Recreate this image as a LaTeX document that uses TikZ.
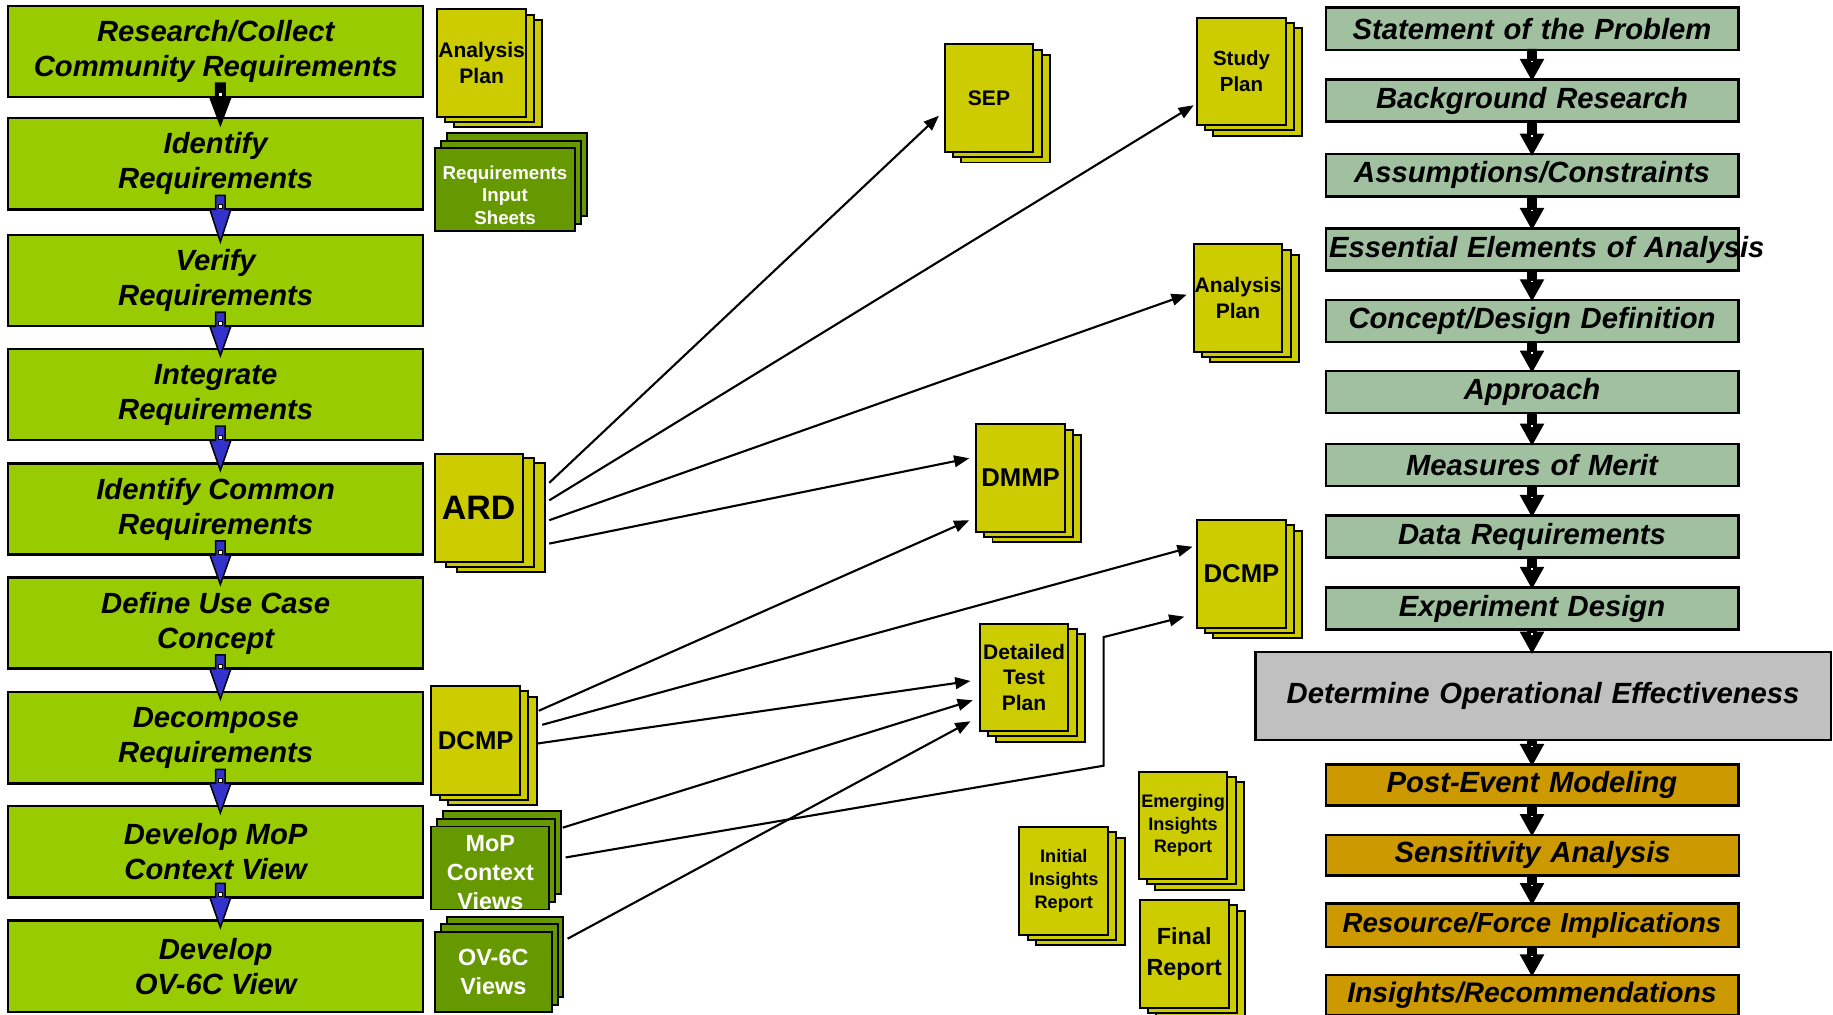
\documentclass[tikz,border=0pt]{standalone}
\usepackage{fontspec}
\setmainfont{Liberation Sans}
\usetikzlibrary{arrows.meta,shadows,calc}

\definecolor{procgreen}{HTML}{99CC00}
\definecolor{docyellow}{HTML}{CCCC00}
\definecolor{docgreen}{HTML}{669900}
\definecolor{sage}{HTML}{A0C0A0}
\definecolor{effgray}{HTML}{C0C0C0}
\definecolor{amber}{HTML}{CC9900}
\definecolor{flowblue}{HTML}{3333CC}

\tikzset{
  proc/.style={draw=black, line width=2.2pt, fill=procgreen, minimum width=355pt,
    minimum height=78pt, inner sep=0pt, align=center,
    font=\fontsize{25}{30}\selectfont\bfseries\itshape},
  stage/.style={draw=black, line width=2pt, text width=347pt, inner xsep=3pt,
    inner ysep=0pt, minimum height=36pt, align=center,
    font=\fontsize{25}{30}\selectfont\bfseries\itshape},
  doc/.style={draw=black, line width=1.7pt, fill=docyellow, minimum width=76pt,
    minimum height=92pt, inner sep=0pt, align=center,
    font=\fontsize{18}{22}\selectfont\bfseries},
  greendoc/.style={fill=docgreen, text=white},
  sheettext/.style={text=white, align=center, inner sep=0pt},
  docstack/.style={
    general shadow={shadow xshift=14pt, shadow yshift=-9pt, fill=docyellow, draw=black, line width=1.7pt},
    general shadow={shadow xshift=7pt, shadow yshift=-4.5pt, fill=docyellow, draw=black, line width=1.7pt}},
  ardstack/.style={
    general shadow={shadow xshift=19pt, shadow yshift=-8pt, fill=docyellow, draw=black, line width=1.7pt},
    general shadow={shadow xshift=9.5pt, shadow yshift=-4pt, fill=docyellow, draw=black, line width=1.7pt}},
  greenstack/.style={
    general shadow={shadow xshift=10pt, shadow yshift=13pt, fill=docgreen, draw=black, line width=1.7pt},
    general shadow={shadow xshift=5pt, shadow yshift=6.5pt, fill=docgreen, draw=black, line width=1.7pt}},
  link/.style={draw=black, line width=1.8pt, -{Triangle[length=13pt,width=10pt]}},
}

% block arrow between two boxes of the requirements column
\newcommand\procstep[3]{%
  \path[draw=black, line width=1.3pt, fill=#1, line join=miter]
    let \p1=($(#2.south)+(4,0)$), \p2=(#3.north) in
    (\x1-4pt,\y1+13pt) -- (\x1-4pt,\y1+1pt) -- (\x1-9pt,\y1+1pt) -- (\x1,\y2-7pt)
    -- (\x1+9pt,\y1+1pt) -- (\x1+4pt,\y1+1pt) -- (\x1+4pt,\y1+13pt) -- cycle;
  \path[draw=black, line width=0.7pt, fill=white]
    let \p1=($(#2.south)+(4,0)$) in
    (\x1-2pt,\y1+1.5pt) rectangle (\x1+2pt,\y1+5pt);
}

% block arrow between two stages of the study column
\newcommand\stagestep[2]{%
  \path[draw=black, line width=1.2pt, fill=black, line join=miter]
    let \p1=(stmt.south |- #1.south), \p2=(stmt.south |- #2.north) in
    (\x1-3.5pt,\y1+1pt) -- (\x1-3.5pt,\y2+16pt) -- (\x1-9.5pt,\y2+16pt) -- (\x1,\y2-1pt)
    -- (\x1+9.5pt,\y2+16pt) -- (\x1+3.5pt,\y2+16pt) -- (\x1+3.5pt,\y1+1pt) -- cycle;
  \fill[white] let \p2=(stmt.south |- #2.north) in
    (\x2-1.2pt,\y2+14pt) rectangle (\x2+1.2pt,\y2+15.2pt);
}

\begin{document}
\begin{tikzpicture}[x=1pt,y=-1pt]
\fill[white] (0,0) rectangle (1568,868);
\useasboundingbox (0,0) rectangle (1568,868);

% ---------------- requirements column ----------------
\node[proc] (research)  at (184.5,44)    {Research/Collect\\Community Requirements};
\node[proc] (identify)  at (184.5,140)   {Identify\\Requirements};
\node[proc] (verify)    at (184.5,240)   {Verify\\Requirements};
\node[proc] (integrate) at (184.5,337.5) {Integrate\\Requirements};
\node[proc] (common)    at (184.5,435.5) {Identify Common\\Requirements};
\node[proc] (usecase)   at (184.5,533)   {Define Use Case\\Concept};
\node[proc] (decompose) at (184.5,631)   {Decompose\\Requirements};
\node[proc] (mopview)   at (184.5,728.5) {Develop MoP\\Context View};
\node[proc] (ovview)    at (184.5,826.5) {Develop\\OV-6C View};

\procstep{black}{research}{identify}
\procstep{flowblue}{identify}{verify}
\procstep{flowblue}{verify}{integrate}
\procstep{flowblue}{integrate}{common}
\procstep{flowblue}{common}{usecase}
\procstep{flowblue}{usecase}{decompose}
\procstep{flowblue}{decompose}{mopview}
\procstep{flowblue}{mopview}{ovview}

% ---------------- products ----------------
\node[doc, docstack] (anaplanA) at (412,54) {Analysis\\Plan};
\node[doc, greendoc, greenstack, minimum width=120pt, minimum height=71pt,
      label={[name=ristext, sheettext, yshift=-4.5pt,
              font=\fontsize{16}{19.5}\selectfont\bfseries]center:{Requirements\\Input\\Sheets}}]
      (ris) at (432,162.5) {};
\node[doc, ardstack, minimum width=75pt, minimum height=93pt,
      font=\fontsize{29}{34}\selectfont\bfseries] (ard) at (409.5,434.5) {ARD};
\node[doc, docstack, minimum height=93pt,
      font=\fontsize{22}{26}\selectfont\bfseries] (dcmpA) at (407,633.5) {DCMP};
\node[doc, greendoc, greenstack, minimum width=101pt, minimum height=71pt,
      label={[name=moptext, sheettext, yshift=-4pt,
              font=\fontsize{20}{25}\selectfont\bfseries]center:{MoP\\Context\\Views}}]
      (mopv) at (419.5,742.5) {};
\node[doc, greendoc, greenstack, minimum width=100pt, minimum height=69pt,
      font=\fontsize{20}{25}\selectfont\bfseries] (ovv) at (422,831.5) {OV-6C\\Views};

\node[doc, docstack] (sep) at (846,84) {SEP};
\node[doc, docstack, font=\fontsize{17.5}{22}\selectfont\bfseries] (study) at (1062,61) {Study\\Plan};
\node[doc, docstack] (anaplanB) at (1059,255) {Analysis\\Plan};
\node[doc, docstack, font=\fontsize{22}{26}\selectfont\bfseries] (dmmp) at (873,409) {DMMP};
\node[doc, docstack, font=\fontsize{22}{26}\selectfont\bfseries] (dcmpB) at (1062,491) {DCMP};
\node[doc, docstack, font=\fontsize{18}{21.5}\selectfont\bfseries] (dtp) at (876,579.5) {Detailed\\Test\\Plan};
\node[doc, docstack, font=\fontsize{15.5}{19.5}\selectfont\bfseries] (eir) at (1012,706) {Emerging\\Insights\\Report};
\node[doc, docstack, font=\fontsize{15.5}{19.5}\selectfont\bfseries] (iir) at (910,753.5) {Initial\\Insights\\Report};
\node[doc, docstack, font=\fontsize{20}{26}\selectfont\bfseries] (final) at (1013,816) {Final\\Report};

% ---------------- product flows ----------------
\draw[link] ([shift={(22pt,21.5pt)}]ard.east)  -- ([shift={(-4pt,-15pt)}]sep.west);
\draw[link] ([shift={(22pt,6.5pt)}]ard.east)   -- ([shift={(-2pt,-29pt)}]study.west);
\draw[link] ([shift={(22pt,-10.5pt)}]ard.east) -- ([shift={(-5pt,3pt)}]anaplanB.west);
\draw[link] ([shift={(22pt,-30.5pt)}]ard.east) -- ([shift={(-5pt,17pt)}]dmmp.west);

\draw[link] ([shift={(15pt,25.5pt)}]dcmpA.east) -- ([shift={(-5pt,-36pt)}]dmmp.west);
\draw[link] ([shift={(18pt,13.5pt)}]dcmpA.east) -- ([shift={(-3pt,23.3pt)}]dcmpB.west);
\draw[link] ([shift={(14pt,-2.5pt)}]dcmpA.east) -- ([shift={(-7pt,-3pt)}]dtp.west);

\coordinate (bendlow) at (944,655);
\coordinate (bendhigh) at (944,545);
\draw[link] ([shift={(10.5pt,34.5pt)}]mopv.east) -- ([shift={(-5pt,-19.5pt)}]dtp.west);
\draw[link] ([shift={(13pt,9pt)}]mopv.east) -- (bendlow) -- (bendhigh)
            -- ([shift={(-10pt,-36.5pt)}]dcmpB.west);
\draw[link] ([shift={(12.7pt,28.5pt)}]ovv.east) -- ([shift={(-7pt,-37.5pt)}]dtp.west);

% ---------------- study column ----------------
\node[stage, fill=sage] (stmt)      at (1310.5,24.5)  {Statement of the Problem};
\node[stage, fill=sage] (bg)        at (1310.5,86)    {Background Research};
\node[stage, fill=sage] (assume)    at (1310.5,150)   {Assumptions/Constraints};
\node[stage, fill=sage] (eea)       at (1310.5,213.5) {\mbox{Essential Elements of Analysis}};
\node[stage, fill=sage] (concept)   at (1310.5,274.5) {Concept/Design Definition};
\node[stage, fill=sage] (approach)  at (1310.5,335.5) {Approach};
\node[stage, fill=sage] (mom)       at (1310.5,398)   {Measures of Merit};
\node[stage, fill=sage] (datareq)   at (1310.5,459)   {Data Requirements};
\node[stage, fill=sage] (expdesign) at (1310.5,520.5) {Experiment Design};
\node[stage, fill=effgray, text width=486pt, minimum height=75pt] (doe) at (1320,595.5)
      {Determine Operational Effectiveness};
\node[stage, fill=amber, minimum height=35pt] (post)     at (1310.5,671.5) {Post-Event Modeling};
\node[stage, fill=amber, minimum height=35pt] (sens)     at (1311,731.5)   {Sensitivity Analysis};
\node[stage, fill=amber, minimum height=37pt,
      font=\fontsize{23.6}{28}\selectfont\bfseries\itshape] (resforce) at (1310.5,791.5) {Resource/Force Implications};
\node[stage, fill=amber, minimum height=34pt,
      font=\fontsize{24.2}{28}\selectfont\bfseries\itshape] (insights) at (1310.5,851) {Insights/Recommendations};

\stagestep{stmt}{bg}
\stagestep{bg}{assume}
\stagestep{assume}{eea}
\stagestep{eea}{concept}
\stagestep{concept}{approach}
\stagestep{approach}{mom}
\stagestep{mom}{datareq}
\stagestep{datareq}{expdesign}
\stagestep{expdesign}{doe}
\stagestep{doe}{post}
\stagestep{post}{sens}
\stagestep{sens}{resforce}
\stagestep{resforce}{insights}

\end{tikzpicture}
\end{document}
